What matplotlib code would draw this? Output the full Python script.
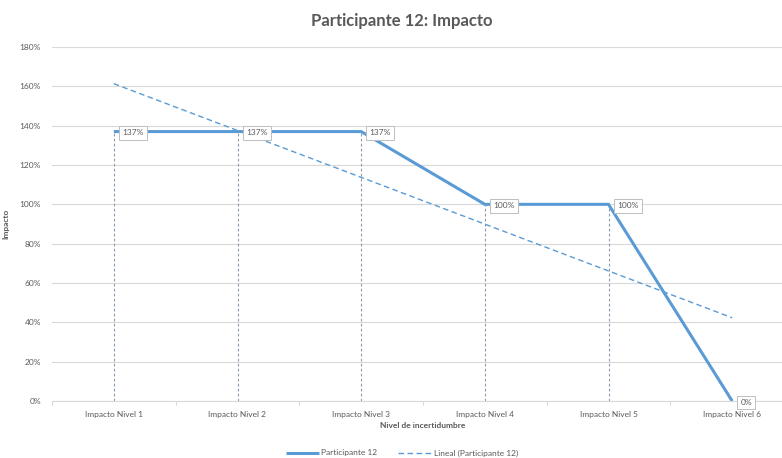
import numpy as np
import matplotlib
matplotlib.use("Agg")
import matplotlib.pyplot as plt
from matplotlib.ticker import PercentFormatter

plt.rcParams["font.family"] = ["Lato", "DejaVu Sans"]

CATEGORIES = ["Impacto Nivel 1", "Impacto Nivel 2", "Impacto Nivel 3",
              "Impacto Nivel 4", "Impacto Nivel 5", "Impacto Nivel 6"]
IMPACT = [1.37, 1.37, 1.37, 1.00, 1.00, 0.00]
LABELS = ["137%", "137%", "137%", "100%", "100%", "0%"]

BLUE = "#5B9BD5"
GRID = "#D9D9D9"
TXT = "#595959"

fig = plt.figure(figsize=(7.82, 4.58), dpi=100)
ax = fig.add_axes([52 / 782, 1 - 401 / 458, 742 / 782, (401 - 47) / 458])

x = np.arange(len(CATEGORIES))

# drop lines
for xi, yi in zip(x, IMPACT):
    ax.plot([xi, xi], [0, yi], color="#8C9AAE", lw=0.8, ls=(0, (2.5, 2)), zorder=2)

ax.plot(x, IMPACT, color=BLUE, lw=2.2, zorder=4, label="Participante 12",
        solid_capstyle="butt")

# linear trend
slope, icpt = np.polyfit(x, IMPACT, 1)
ax.plot(x, slope * x + icpt, color=BLUE, lw=1.0, ls=(0, (4, 2.5)), zorder=3,
        label="Lineal (Participante 12)")

for xi, yi, lab in zip(x, IMPACT, LABELS):
    ax.annotate(lab, (xi, yi), xytext=(6, -1), textcoords="offset points",
                ha="left", va="center", fontsize=6, color=TXT, zorder=6,
                bbox=dict(boxstyle="square,pad=0.4", fc="white", ec="#BFBFBF", lw=0.7))

ax.set_xlim(-0.5, 5.5)
ax.set_ylim(0, 1.8)
ax.set_yticks(np.arange(0, 1.81, 0.2))
ax.yaxis.set_major_formatter(PercentFormatter(1.0, decimals=0))
ax.set_xticks(x)
ax.set_xticklabels(CATEGORIES)
ax.set_xticks(np.arange(-0.5, 5.6, 1), minor=True)
ax.tick_params(axis="x", which="major", length=0, labelsize=6, labelcolor=TXT, pad=7)
ax.tick_params(axis="x", which="minor", length=3, color=GRID, width=0.8)
ax.tick_params(axis="y", length=0, labelsize=6, labelcolor=TXT, pad=8)

ax.grid(axis="y", color=GRID, lw=0.8)
ax.set_axisbelow(True)
for s in ["top", "right", "left"]:
    ax.spines[s].set_visible(False)
ax.spines["bottom"].set_color(GRID)
ax.spines["bottom"].set_linewidth(0.8)

ax.set_ylabel("Impacto", fontsize=6, fontweight="bold", color=TXT, labelpad=7)
ax.set_xlabel("Nivel de incertidumbre", fontsize=6, fontweight="bold", color=TXT, labelpad=3)

fig.suptitle("Participante 12: Impacto", x=402 / 782, y=1 - 21 / 458, va="center",
             fontsize=12, fontweight="bold", color=TXT)

fig.legend(loc="center", bbox_to_anchor=(402 / 782, 1 - 453 / 458), ncol=2,
           frameon=False, fontsize=6, labelcolor=TXT, handlelength=4,
           columnspacing=2.5, handletextpad=0.3)

fig.savefig("out.png", dpi=100)
